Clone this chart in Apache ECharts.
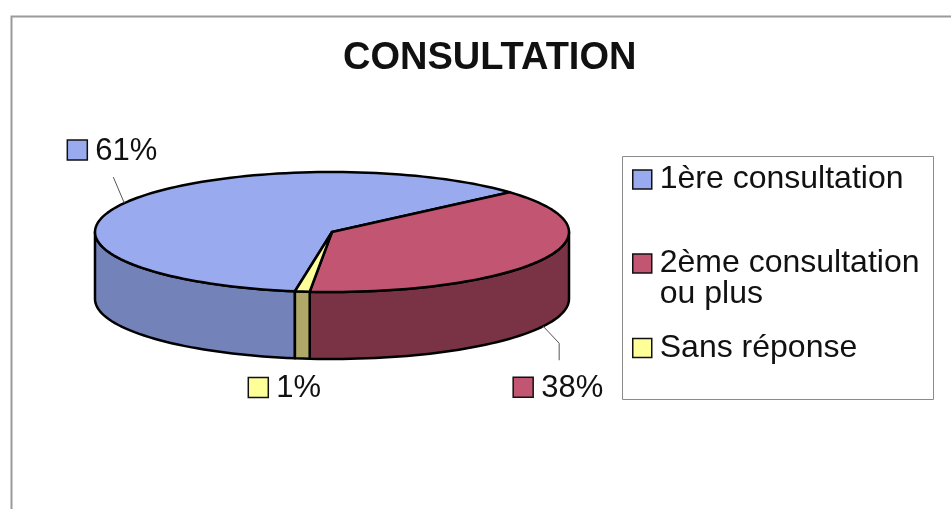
<!DOCTYPE html>
<html>
<head>
<meta charset="utf-8">
<script src="https://cdn.jsdelivr.net/npm/echarts@6/dist/echarts.min.js"></script>
<style>
  html, body { margin: 0; padding: 0; background: #fff; }
  #main { width: 951px; height: 509px; }
</style>
</head>
<body>
<div id="main"></div>
<script>
// data
var categories = ['1ère consultation', '2ème consultation ou plus', 'Sans réponse'];
var values = [61, 38, 1];

// look of the 3d pie
var topColors = ['#99aaee', '#c25672', '#ffff99'];
var sideColors = ['#7383ba', '#7a3344', '#b0a868'];
var pie = { cx: 332, cy: 232, rx: 237, ry: 60, depth: 67, startAngle: 99 };
// label offsets from the rim anchor, and leader line bends
var labelLayout = [
  { dx: -57, dy: -53, line: [[-11, -26]] },
  { dx: -30, dy: 61, line: [[16, 17], [16, 34]] },
  { dx: -54, dy: 29, line: [] }
];

var total = values.reduce(function (a, b) { return a + b; }, 0);
var angles = [];
var acc = pie.startAngle;
values.forEach(function (v) {
  var span = v / total * 360;
  angles.push([acc, acc + span]);
  acc += span;
});

function pt(deg, dy) {
  var r = deg * Math.PI / 180;
  return [pie.cx + pie.rx * Math.cos(r), pie.cy + pie.ry * Math.sin(r) + (dy || 0)];
}
function arc(a, b, dy) {
  var n = Math.max(2, Math.ceil(Math.abs(b - a) / 2));
  var pts = [];
  for (var k = 0; k <= n; k++) pts.push(pt(a + (b - a) * k / n, dy));
  return pts;
}

function makeRender(i) {
  return function (params, api) {
    var a0 = angles[i][0], a1 = angles[i][1];
    var children = [];
    // front wall (only the part facing the viewer)
    [-360, 0, 360].forEach(function (k) {
      var s = Math.max(a0, k), e = Math.min(a1, 180 + k);
      if (e > s) {
        children.push({
          type: 'polygon',
          shape: { points: arc(s, e, 0).concat(arc(e, s, pie.depth)) },
          style: { fill: sideColors[i], stroke: '#000', lineWidth: 2.5, lineJoin: 'round' }
        });
      }
    });
    // top face
    children.push({
      type: 'polygon',
      shape: { points: [[pie.cx, pie.cy]].concat(arc(a0, a1, 0)) },
      style: { fill: topColors[i], stroke: '#000', lineWidth: 2.5, lineJoin: 'round' }
    });
    // label
    var mid = (a0 + a1) / 2;
    var front = Math.sin(mid * Math.PI / 180) > 0;
    var anchor = pt(mid, front ? pie.depth : 0);
    var lay = labelLayout[i];
    if (lay.line.length) {
      var linePts = [anchor].concat(lay.line.map(function (p) {
        return [anchor[0] + p[0], anchor[1] + p[1]];
      }));
      children.push({
        type: 'polyline',
        shape: { points: linePts },
        style: { stroke: '#555', lineWidth: 1, fill: null }
      });
    }
    var lx = anchor[0] + lay.dx, ly = anchor[1] + lay.dy;
    children.push({
      type: 'rect',
      shape: { x: lx, y: ly - 10, width: 20, height: 20 },
      style: { fill: topColors[i], stroke: '#111', lineWidth: 1.5 }
    });
    children.push({
      type: 'text',
      style: {
        x: lx + 28, y: ly + 1,
        text: Math.round(api.value(0) / total * 100) + '%',
        font: '31px "Liberation Sans", Arial, sans-serif',
        fill: '#111',
        verticalAlign: 'middle'
      }
    });
    return { type: 'group', children: children };
  };
}

var chart = echarts.init(document.getElementById('main'));

var series = categories.map(function (name, i) {
  return {
    type: 'custom',
    name: name,
    coordinateSystem: 'none',
    itemStyle: { color: topColors[i] },
    data: [[values[i]]],
    renderItem: makeRender(i)
  };
});

var option = {
  backgroundColor: '#ffffff',
  animation: false,
  title: {
    text: 'CONSULTATION',
    left: 338,
    top: 35,
    textStyle: { fontSize: 38, fontWeight: 'bold', fontFamily: '"Liberation Sans", Arial', color: '#111' }
  },
  legend: {
    orient: 'vertical',
    left: 632,
    top: 133,
    padding: 0,
    itemGap: -9,
    itemWidth: 19,
    itemHeight: 19,
    icon: 'rect',
    selectedMode: false,
    itemStyle: { borderColor: '#111', borderWidth: 1.5 },
    formatter: function (name) { return name.replace(' ou plus', '\nou plus'); },
    textStyle: {
      fontSize: 32, lineHeight: 31, color: '#111',
      fontFamily: '"Liberation Sans", Arial',
      backgroundColor: 'rgba(0,0,0,0)',
      rich: {}
    },
    data: [
      { name: categories[0], textStyle: { padding: [31, 0, 31, 3] } },
      { name: categories[1], textStyle: { padding: [31, 0, 0, 3] } },
      { name: categories[2], textStyle: { padding: [31, 0, 31, 3] } }
    ]
  },
  graphic: [
    { type: 'rect', left: 9, top: 14, shape: { width: 960, height: 520 }, style: { fill: 'none', stroke: '#9a9a9a', lineWidth: 2 }, z: -1 },
    { type: 'rect', left: 620, top: 154, shape: { width: 311, height: 243 }, style: { fill: 'none', stroke: '#8a8a8a', lineWidth: 1 }, z: -1 }
  ],
  series: series
};

chart.setOption(option);
</script>
</body>
</html>
